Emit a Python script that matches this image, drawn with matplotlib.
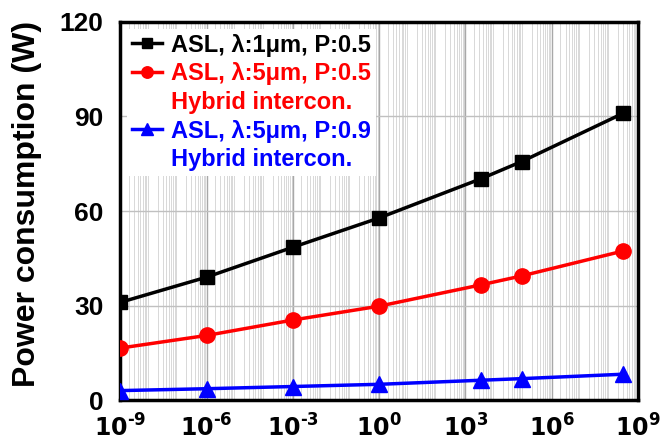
import numpy as np
import matplotlib
matplotlib.use('Agg')
import matplotlib.pyplot as plt
from matplotlib.lines import Line2D
from matplotlib.ticker import FixedLocator

plt.rcParams['font.family'] = ['Liberation Sans', 'DejaVu Sans']
plt.rcParams['font.weight'] = 'bold'
plt.rcParams['mathtext.fontset'] = 'custom'
plt.rcParams['mathtext.rm'] = 'Liberation Sans Narrow:bold'
plt.rcParams['mathtext.bf'] = 'Liberation Sans Narrow:bold'
plt.rcParams['mathtext.default'] = 'bf'

narrow = ['Liberation Sans Narrow', 'Liberation Sans', 'DejaVu Sans']

# datos
x_vals = [1e-9, 1e-6, 1e-3, 1e0, 3.6e3, 9e4, 3e8]
asl_1um = [31, 39, 48.5, 57.8, 70.3, 75.7, 91]
asl_5um_p05 = [16.5, 20.5, 25.4, 29.8, 36.6, 39.4, 47.3]
asl_5um_p09 = [3.0, 3.6, 4.3, 5.0, 6.3, 6.8, 8.2]

labels = ['ASL, λ:1μm, P:0.5', 'ASL, λ:5μm, P:0.5', 'ASL, λ:5μm, P:0.9']
second_line = 'Hybrid intercon.'
y_ticks = [0, 30, 60, 90, 120]
x_ticks = [1e-9, 1e-6, 1e-3, 1e0, 1e3, 1e6, 1e9]
x_ticklabels = [r'$10^{\text{-9}}$', r'$10^{\text{-6}}$', r'$10^{\text{-3}}$', r'$10^{0}$',
                r'$10^{3}$', r'$10^{6}$', r'$10^{9}$']

fig = plt.figure(figsize=(6.64, 4.48), dpi=100)
ax = fig.add_axes([0.181, 0.107, 0.780, 0.844])

# rejilla: lineas menores y mayores
minor = [k * 10.0**e for e in range(-9, 9) for k in range(2, 10)]
for m in minor:
    ax.axvline(m, color='#d2d2d2', lw=0.6, zorder=0)
for t in x_ticks[1:-1]:
    ax.axvline(t, color='#a8a8a8', lw=1.0, zorder=0)
for t in y_ticks[1:-1]:
    ax.axhline(t, color='#c0c0c0', lw=1.0, zorder=0)

l1, = ax.plot(x_vals, asl_1um, color='black', marker='s', ms=10, lw=2.5, zorder=3)
l2, = ax.plot(x_vals, asl_5um_p05, color='#ff0000', marker='o', ms=11, lw=2.5, zorder=3)
l3, = ax.plot(x_vals, asl_5um_p09, color='#0000ff', marker='^', ms=11, lw=2.5, zorder=3)

ax.set_xscale('log')
ax.set_xlim(1e-9, 1e9)
ax.set_ylim(0, 120)
ax.xaxis.set_major_locator(FixedLocator(x_ticks))
ax.xaxis.set_minor_locator(FixedLocator([]))
ax.set_xticks(x_ticks)
ax.set_xticklabels(x_ticklabels)
ax.set_yticks(y_ticks)
ax.tick_params(axis='x', length=0, labelsize=17, pad=10)
ax.tick_params(axis='y', length=0, labelsize=19, pad=12)
for lab in ax.get_yticklabels():
    lab.set_fontweight('bold')
    lab.set_family(narrow)

ax.set_ylabel('Power consumption (W)', fontsize=23, fontweight='bold', family=narrow)
ax.yaxis.set_label_coords(-0.151, 0.52)

for s in ax.spines.values():
    s.set_linewidth(2.5)

blank = Line2D([], [], linestyle='none')
handles = [l1, l2, blank, l3, blank]
leg_labels = [labels[0], labels[1], second_line, labels[2], second_line]
leg = ax.legend(handles, leg_labels, loc='upper left', fontsize=17,
                frameon=True, framealpha=1, edgecolor='none', fancybox=False,
                handlelength=1.25, handletextpad=0.42, labelspacing=0.24,
                borderpad=0.2, borderaxespad=0.3, markerscale=0.75)
cols = ['black', '#ff0000', '#ff0000', '#0000ff', '#0000ff']
for txt, c in zip(leg.get_texts(), cols):
    txt.set_color(c)
    txt.set_fontweight('bold')

plt.savefig('out.png', dpi=100)
